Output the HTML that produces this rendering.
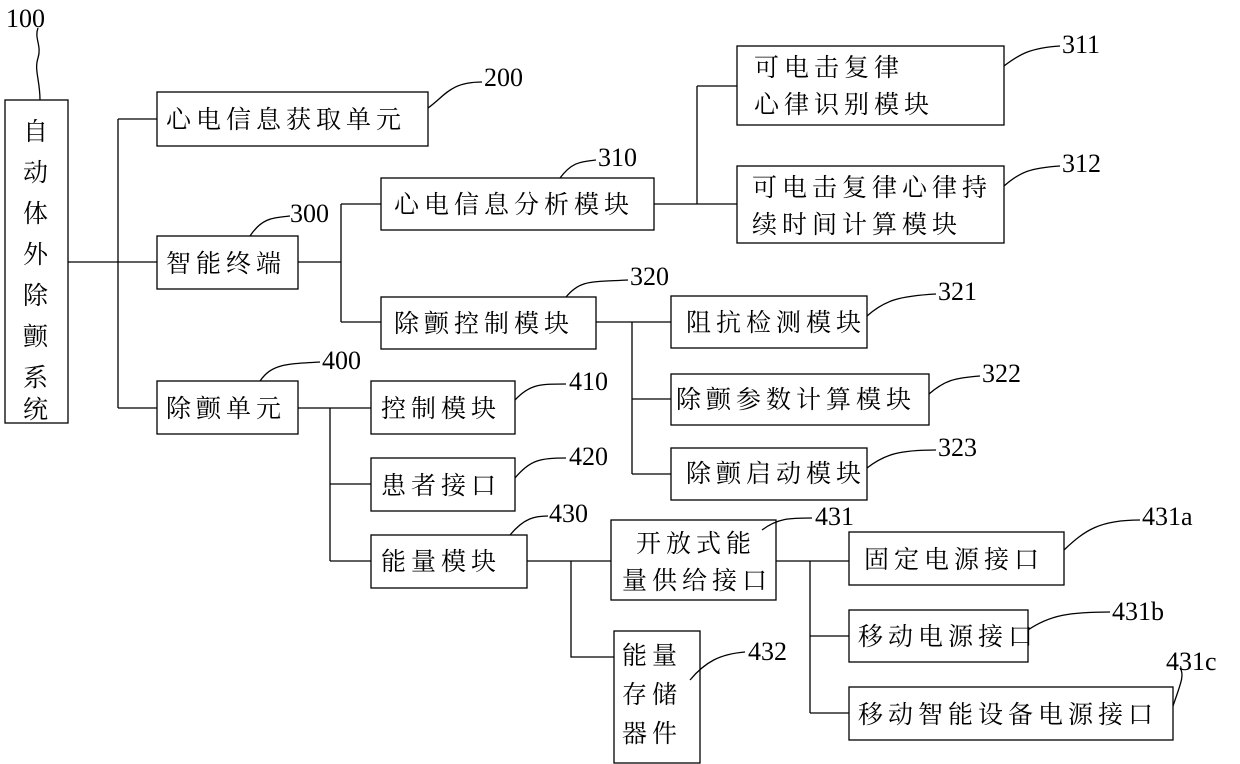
<!DOCTYPE html>
<html><head><meta charset="utf-8"><style>
body{margin:0;background:#fff}
svg{display:block}
text{font-family:"Liberation Serif","Noto Serif CJK SC","Noto Sans CJK SC",serif;fill:#000}
.c{font-size:25px;letter-spacing:5px}
.n{font-size:26px}
</style></head><body>
<svg width="1240" height="764" viewBox="0 0 1240 764" xmlns="http://www.w3.org/2000/svg">
<g fill="none" stroke="#000" stroke-width="1.3">
<rect x="5" y="100" width="63" height="323"/>
<rect x="157" y="92" width="271" height="54"/>
<rect x="157" y="236" width="141" height="53"/>
<rect x="381" y="178" width="273" height="52"/>
<rect x="737" y="46" width="267" height="79"/>
<rect x="737" y="166" width="267" height="77"/>
<rect x="381" y="297" width="215" height="52"/>
<rect x="671" y="296" width="196" height="52"/>
<rect x="671" y="374" width="258" height="51"/>
<rect x="671" y="448" width="196" height="52"/>
<rect x="157" y="381" width="141" height="53"/>
<rect x="371" y="381" width="144" height="53"/>
<rect x="371" y="458" width="144" height="53"/>
<rect x="371" y="535" width="156" height="53"/>
<rect x="611" y="520" width="165" height="80"/>
<rect x="849" y="532" width="215" height="53"/>
<rect x="849" y="610" width="179" height="52"/>
<rect x="849" y="687" width="324" height="53"/>
<rect x="614" y="631" width="86" height="132"/>
<path d="M68 262H118M118 119V408M118 119H157M118 262H157M118 408H157"/>
<path d="M298 262H341M341 204V322M341 204H381M341 322H381"/>
<path d="M654 204H737M697 86V204M697 86H737"/>
<path d="M596 322H671M632 322V474M632 399H671M632 474H671"/>
<path d="M298 408H330M330 408V561M330 408H371M330 484H371M330 561H371"/>
<path d="M527 561H611M571 561V657H614"/>
<path d="M776 561H849M810 561V713M810 636H849M810 713H849"/>
<path d="M40 100C40 80 34 70 38 58C42 46 34 38 38 28"/>
<path d="M428 108C445 96 450 82 482 82"/>
<path d="M250 236C262 218 272 218 290 216"/>
<path d="M560 178C572 162 580 162 596 160"/>
<path d="M1004 66C1020 54 1030 48 1060 46"/>
<path d="M1004 186C1020 172 1030 168 1060 166"/>
<path d="M566 297C580 280 590 282 628 280"/>
<path d="M867 316C885 300 900 296 936 294"/>
<path d="M929 394C945 380 955 378 980 376"/>
<path d="M867 468C885 454 900 450 936 450"/>
<path d="M260 381C272 364 285 364 320 362"/>
<path d="M515 400C530 384 540 384 566 384"/>
<path d="M515 478C530 460 540 458 566 458"/>
<path d="M510 535C524 518 535 516 548 516"/>
<path d="M762 530C778 518 790 518 812 518"/>
<path d="M1064 550C1085 530 1100 520 1140 520"/>
<path d="M1028 630C1050 615 1070 612 1110 612"/>
<path d="M1173 706C1180 685 1185 675 1180 668"/>
<path d="M690 680C705 662 720 654 745 652"/>
</g>
<g class="n">
<text x="6" y="27">100</text>
<text x="484" y="86">200</text>
<text x="290" y="222">300</text>
<text x="598" y="166">310</text>
<text x="1062" y="53">311</text>
<text x="1062" y="172">312</text>
<text x="630" y="285">320</text>
<text x="938" y="300">321</text>
<text x="982" y="382">322</text>
<text x="938" y="456">323</text>
<text x="322" y="369">400</text>
<text x="569" y="390">410</text>
<text x="569" y="465">420</text>
<text x="549" y="522">430</text>
<text x="815" y="525">431</text>
<text x="1142" y="525">431a</text>
<text x="1112" y="620">431b</text>
<text x="1166" y="670">431c</text>
<text x="748" y="660">432</text>
</g>
<g class="c">
<text x="23" y="140">自</text><text x="23" y="181">动</text><text x="23" y="222">体</text><text x="23" y="263">外</text><text x="23" y="304">除</text><text x="23" y="345">颤</text><text x="23" y="386">系</text><text x="23" y="418">统</text>
<text x="166" y="128">心电信息获取单元</text>
<text x="166" y="272">智能终端</text>
<text x="394" y="213">心电信息分析模块</text>
<text x="754" y="76">可电击复律</text>
<text x="754" y="113">心律识别模块</text>
<text x="752" y="196">可电击复律心律持</text>
<text x="752" y="233">续时间计算模块</text>
<text x="394" y="332">除颤控制模块</text>
<text x="686" y="331">阻抗检测模块</text>
<text x="676" y="408">除颤参数计算模块</text>
<text x="686" y="482">除颤启动模块</text>
<text x="166" y="417">除颤单元</text>
<text x="381" y="417">控制模块</text>
<text x="381" y="494">患者接口</text>
<text x="381" y="570">能量模块</text>
<text x="636" y="552">开放式能</text>
<text x="622" y="589">量供给接口</text>
<text x="864" y="568">固定电源接口</text>
<text x="858" y="645">移动电源接口</text>
<text x="858" y="723">移动智能设备电源接口</text>
<text x="622" y="664">能量</text>
<text x="622" y="703">存储</text>
<text x="622" y="742">器件</text>
</g>
</svg>
</body></html>
